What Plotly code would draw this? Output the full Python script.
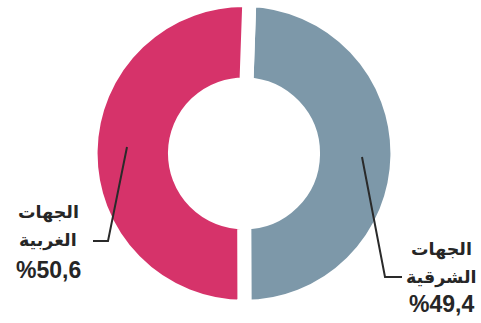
import plotly.graph_objects as go

W, H = 481, 323

regions = ["الجهات الشرقية", "الجهات الغربية"]
shares = [49.4, 50.6]
colors = ["#7D98A9", "#D6336A"]
label_lines = [["الجهات", "الشرقية", "%49,4"], ["الجهات", "الغربية", "%50,6"]]


def px(x):
    return x / W


def py(y):
    return 1 - y / H


fig = go.Figure(go.Pie(
    labels=regions,
    values=shares,
    sort=False,
    direction="clockwise",
    rotation=2,
    hole=0.45,
    marker=dict(colors=colors, line=dict(color="white", width=14)),
    textinfo="none",
    hoverinfo="label+percent",
    showlegend=False,
    domain=dict(x=[px(90.5), px(397.5)], y=[0.05, 1.0]),
))

# label positions (pixel centres of each text line)
label_pos = [
    (441, [249, 277, 304]),
    (48, [213, 241, 270]),
]
ann = []
for (cx, ys), lines in zip(label_pos, label_lines):
    for i, (yy, t) in enumerate(zip(ys, lines)):
        size = 23 if i == 2 else 17.5
        ann.append(dict(
            x=px(cx), y=py(yy), xref="paper", yref="paper",
            text="<b>" + t + "</b>", showarrow=False,
            xanchor="center", yanchor="middle",
            font=dict(family="Liberation Sans, DejaVu Sans, Arial", size=size, color="#262626"),
        ))

leaders = [
    [(362, 157), (385, 277), (402, 277)],
    [(127, 147), (108, 241), (93, 241)],
]
shapes = []
for pts in leaders:
    path = "M " + " L ".join(f"{px(x)} {py(y)}" for x, y in pts)
    shapes.append(dict(type="path", xref="paper", yref="paper", path=path,
                       line=dict(color="#2a2a2a", width=2)))

fig.update_layout(
    width=W, height=H,
    margin=dict(l=0, r=0, t=0, b=0),
    paper_bgcolor="white", plot_bgcolor="white",
    annotations=ann, shapes=shapes,
)
fig.write_html("out.html")
